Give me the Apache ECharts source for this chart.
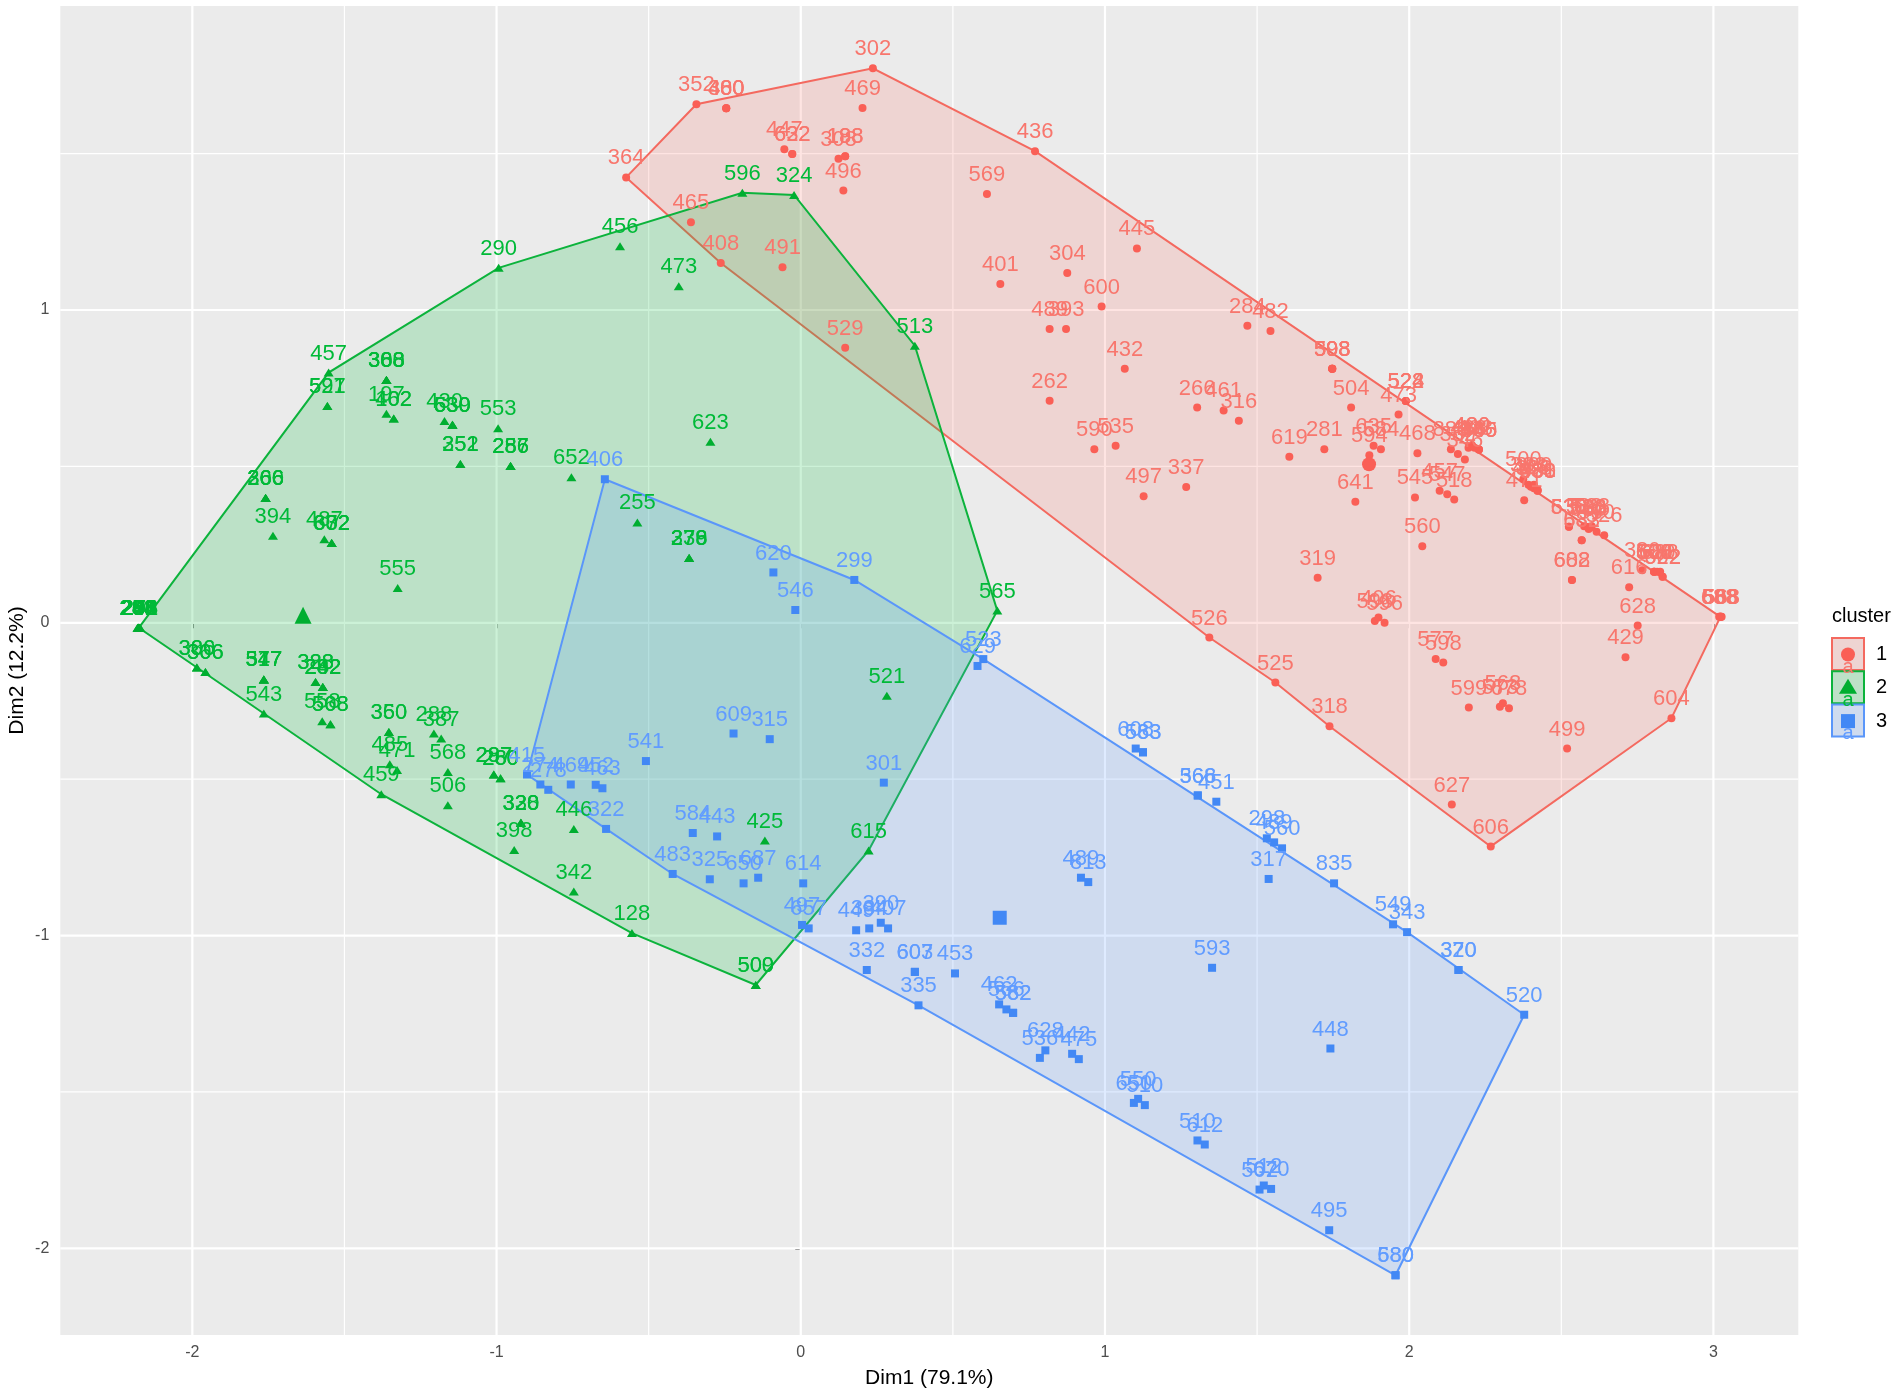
<!DOCTYPE html>
<html><head><meta charset="utf-8">
<style>html,body{margin:0;padding:0;background:#fff}#c{width:1902px;height:1394px;filter:blur(0.5px)}</style>
<script src="https://cdn.jsdelivr.net/npm/echarts@6/dist/echarts.min.js"></script>
</head><body><div id="c"></div>
<script>
const xRange=[-2.434,3.279], yRange=[-2.277,1.972];
const xTicks=[-2,-1,0,1,2,3], yTicks=[-2,-1,0,1];
const xMinor=[-1.5,-0.5,0.5,1.5,2.5], yMinor=[-1.5,-0.5,0.5,1.5];
const clusterNames=['1','2','3'];
const clusterColors=['#F8766D','#00BA38','#619CFF'];
const lineColors=['#F4695F','#0CB33C','#5A96FA'];
const pointColors=['#FA5F56','#00AE30','#4288F5'];

const hull1=[[-0.574,1.424],[-0.343,1.658],[0.237,1.773],[0.770,1.508],[3.023,0.019],[2.862,-0.305],[2.268,-0.715],[1.738,-0.331],[1.560,-0.191],[1.343,-0.047],[-0.263,1.150]];
const hull2=[[-2.176,-0.016],[-1.552,0.800],[-0.993,1.135],[-0.192,1.375],[-0.022,1.368],[0.375,0.886],[0.646,0.039],[0.223,-0.728],[-0.148,-1.158],[-0.555,-0.992],[-1.379,-0.548],[-1.765,-0.290],[-1.985,-0.143]];
const hull3=[[-0.644,0.459],[0.176,0.137],[0.600,-0.116],[1.993,-0.989],[2.378,-1.253],[1.955,-2.086],[0.387,-1.223],[-0.421,-0.803],[-0.640,-0.659],[-0.900,-0.485]];

const centers=[[1.868,0.507],[-1.636,0.024],[0.654,-0.943]];

const cluster1=[[-0.574,1.424,'364'],[-0.343,1.658,'352'],[0.237,1.773,'302'],[0.770,1.508,'436'],[3.021,0.019,'588'],[3.023,0.019,'583'],[3.025,0.019,'563'],[3.023,0.019,'603'],[3.019,0.019,'688'],[3.027,0.019,'568'],[2.862,-0.305,'604'],[2.268,-0.715,'606'],[1.738,-0.331,'318'],[1.560,-0.191,'525'],[1.343,-0.047,'526'],[-0.263,1.150,'408'],
[-0.245,1.645,'380'],[-0.245,1.645,'400'],[-0.245,1.645,'460'],[0.203,1.646,'469'],[-0.054,1.514,'447'],[-0.028,1.499,'622'],[-0.028,1.499,'632'],[0.124,1.484,'308'],[0.146,1.492,'198'],[0.146,1.492,'188'],[0.140,1.382,'496'],[-0.361,1.281,'465'],[-0.060,1.137,'491'],[0.146,0.879,'529'],
[0.612,1.371,'569'],[1.105,1.197,'445'],[0.656,1.083,'401'],[0.876,1.118,'304'],[0.989,1.011,'600'],[0.818,0.939,'489'],[0.872,0.939,'393'],[1.468,0.950,'284'],[1.544,0.933,'482'],[1.065,0.812,'432'],[1.747,0.812,'503'],[1.747,0.812,'598'],[1.747,0.812,'508'],[1.747,0.812,'398'],[0.818,0.710,'262'],[1.303,0.688,'266'],[1.390,0.679,'461'],[1.440,0.646,'316'],[1.809,0.688,'504'],[1.989,0.709,'522'],[1.989,0.709,'524'],[1.989,0.709,'528'],[1.965,0.666,'473'],[0.965,0.555,'590'],[1.035,0.566,'535'],[1.606,0.531,'619'],[1.721,0.555,'281'],[1.907,0.555,'584'],[1.883,0.566,'635'],[2.027,0.542,'468'],[2.137,0.555,'883'],[2.160,0.540,'382'],[2.183,0.522,'346'],[2.206,0.568,'400'],[2.229,0.554,'440'],[2.229,0.554,'465'],[2.229,0.554,'385'],[2.206,0.568,'480'],[2.195,0.560,'488'],[2.215,0.560,'408'],[1.869,0.536,'594'],
[1.127,0.405,'497'],[1.267,0.434,'337'],[1.823,0.387,'641'],[2.019,0.401,'545'],[2.100,0.422,'457'],[2.125,0.411,'547'],[2.148,0.394,'518'],[2.378,0.392,'471'],[2.375,0.459,'500'],[2.392,0.441,'383'],[2.422,0.422,'480'],[2.400,0.435,'488'],[2.422,0.422,'388'],[2.410,0.430,'308'],[2.422,0.425,'481'],[2.410,0.441,'300'],[2.525,0.307,'636'],[2.525,0.307,'530'],[2.588,0.306,'533'],[2.567,0.264,'583'],[2.616,0.291,'580'],[2.641,0.280,'526'],[2.575,0.309,'538'],[2.600,0.309,'588'],[2.588,0.306,'586'],[2.567,0.264,'632'],[2.590,0.300,'680'],
[2.043,0.245,'560'],[1.699,0.144,'319'],[2.535,0.137,'688'],[2.535,0.137,'602'],[2.723,0.114,'616'],[2.766,0.168,'380'],[2.805,0.163,'500'],[2.833,0.147,'602'],[2.805,0.163,'608'],[2.833,0.147,'522'],[2.805,0.163,'606'],[2.815,0.163,'680'],[2.825,0.163,'688'],[2.751,-0.009,'628'],[2.711,-0.110,'429'],[1.887,0.006,'598'],[1.899,0.017,'406'],[1.919,0.000,'596'],[2.087,-0.116,'577'],[2.112,-0.127,'598'],[2.196,-0.271,'599'],[2.298,-0.268,'573'],[2.328,-0.273,'678'],[2.308,-0.257,'568'],[2.519,-0.402,'499'],[2.140,-0.581,'627']];

const cluster2=[[-2.176,-0.016,'240'],[-2.178,-0.016,'241'],[-2.174,-0.016,'244'],[-2.176,-0.016,'254'],[-2.180,-0.016,'268'],[-2.172,-0.016,'278'],[-2.176,-0.016,'288'],[-2.176,-0.016,'298'],[-2.176,-0.016,'235'],[-2.178,-0.016,'256'],[-2.174,-0.016,'263'],[-2.176,-0.016,'272'],[-2.180,-0.016,'283'],[-2.172,-0.016,'291'],
[-1.552,0.800,'457'],[-1.556,0.693,'597'],[-1.556,0.693,'521'],[-0.993,1.135,'290'],[-0.594,1.204,'456'],[-0.401,1.076,'473'],[-0.192,1.375,'596'],[-0.022,1.368,'324'],[0.375,0.886,'513'],[-0.297,0.579,'623'],[-0.995,0.622,'553'],[-1.362,0.776,'388'],[-1.362,0.776,'368'],[-1.362,0.776,'300'],[-1.362,0.776,'308'],[-1.362,0.668,'197'],[-1.338,0.653,'402'],[-1.338,0.653,'162'],[-1.171,0.645,'430'],[-1.145,0.633,'539'],[-1.145,0.633,'530'],[-1.145,0.633,'630'],[-1.119,0.508,'352'],[-1.119,0.508,'251'],[-0.954,0.501,'286'],[-0.954,0.501,'287'],[-0.954,0.501,'256'],[-0.754,0.465,'652'],[-0.537,0.321,'255'],[-0.367,0.207,'276'],[-0.367,0.207,'239'],[-0.367,0.207,'378'],[-1.759,0.399,'266'],[-1.759,0.399,'260'],[-1.759,0.399,'306'],[-1.759,0.399,'366'],[-1.735,0.278,'394'],[-1.566,0.267,'487'],[-1.542,0.255,'372'],[-1.542,0.255,'632'],[-1.542,0.255,'602'],[-1.325,0.111,'555'],[0.646,0.039,'565'],
[-1.985,-0.143,'300'],[-1.985,-0.143,'386'],[-1.957,-0.157,'366'],[-1.957,-0.157,'306'],[-1.765,-0.181,'347'],[-1.765,-0.181,'547'],[-1.765,-0.181,'577'],[-1.765,-0.181,'517'],[-1.765,-0.290,'543'],[-1.595,-0.189,'328'],[-1.595,-0.189,'388'],[-1.571,-0.205,'282'],[-1.571,-0.205,'292'],[-1.571,-0.205,'242'],[-1.573,-0.315,'558'],[-1.546,-0.324,'568'],[-1.546,-0.324,'508'],[-1.354,-0.349,'360'],[-1.354,-0.349,'350'],[-1.206,-0.354,'288'],[-1.182,-0.370,'387'],[-1.351,-0.452,'485'],[-1.327,-0.471,'471'],[-1.160,-0.477,'568'],[-1.160,-0.583,'506'],[-1.379,-0.548,'459'],[-1.009,-0.485,'297'],[-1.009,-0.485,'287'],[-0.987,-0.497,'280'],[-0.987,-0.497,'260'],[-0.920,-0.639,'328'],[-0.920,-0.639,'330'],[-0.920,-0.639,'320'],[-0.942,-0.726,'398'],[-0.746,-0.659,'446'],[-0.746,-0.859,'342'],[-0.555,-0.992,'128'],[-0.148,-1.158,'509'],[-0.148,-1.158,'500'],[-0.118,-0.696,'425'],[0.223,-0.728,'615'],[0.283,-0.233,'521']];

const cluster3=[[-0.644,0.459,'406'],[-0.090,0.161,'620'],[0.176,0.137,'299'],[-0.018,0.041,'546'],[0.600,-0.116,'523'],[0.581,-0.138,'629'],[-0.221,-0.354,'609'],[-0.102,-0.372,'315'],[-0.509,-0.442,'541'],[0.273,-0.511,'301'],[-0.900,-0.485,'415'],[-0.856,-0.517,'274'],[-0.830,-0.534,'278'],[-0.756,-0.517,'469'],[-0.674,-0.518,'452'],[-0.652,-0.529,'463'],[-0.640,-0.659,'322'],[-0.355,-0.672,'584'],[-0.275,-0.683,'443'],[-0.421,-0.803,'483'],[-0.299,-0.820,'325'],[-0.188,-0.833,'650'],[-0.140,-0.815,'687'],[0.008,-0.833,'614'],[0.004,-0.966,'497'],[0.026,-0.977,'657'],[0.182,-0.983,'449'],[0.225,-0.977,'384'],[0.263,-0.959,'390'],[0.287,-0.977,'407'],[0.217,-1.110,'332'],[0.375,-1.116,'607'],[0.375,-1.116,'603'],[0.507,-1.121,'453'],[0.387,-1.223,'335'],
[1.101,-0.402,'608'],[1.125,-0.414,'583'],[1.125,-0.414,'563'],[1.305,-0.552,'368'],[1.305,-0.552,'566'],[1.366,-0.572,'451'],[1.532,-0.689,'298'],[1.556,-0.702,'489'],[1.582,-0.721,'560'],[0.921,-0.815,'489'],[0.945,-0.829,'813'],[1.538,-0.819,'317'],[1.753,-0.833,'835'],[1.947,-0.964,'549'],[1.993,-0.989,'343'],[2.162,-1.110,'320'],[2.162,-1.110,'370'],[2.378,-1.253,'520'],[1.352,-1.103,'593'],[0.652,-1.220,'462'],[0.676,-1.236,'566'],[0.698,-1.247,'582'],[0.698,-1.247,'562'],[0.804,-1.367,'628'],[0.786,-1.391,'536'],[0.892,-1.378,'442'],[0.914,-1.395,'475'],[1.741,-1.361,'448'],[1.095,-1.535,'650'],[1.109,-1.522,'550'],[1.131,-1.542,'510'],[1.304,-1.655,'510'],[1.328,-1.668,'612'],[1.508,-1.812,'502'],[1.522,-1.799,'512'],[1.546,-1.810,'670'],[1.737,-1.942,'495'],[1.955,-2.086,'580'],[1.955,-2.086,'680']];

const FONT='"Liberation Sans", Arial, sans-serif';
const chart=echarts.init(document.getElementById('c'),null,{renderer:'canvas'});

function gridSeries(values,dim,width){
  return {type:'custom',silent:true,z:1,animation:false,
    data:values.map(v=>dim===0?[v,0]:[0,v]),
    renderItem(params,api){
      const cs=params.coordSys, p=api.coord([api.value(0),api.value(1)]);
      const shape=dim===0?{x1:p[0],y1:cs.y,x2:p[0],y2:cs.y+cs.height}:{x1:cs.x,y1:p[1],x2:cs.x+cs.width,y2:p[1]};
      return {type:'line',shape,style:{stroke:'#fff',lineWidth:width,fill:null}};
    }};
}
function hullSeries(hull,i){
  return {type:'custom',name:clusterNames[i],silent:true,z:2,animation:false,data:hull,
    renderItem(params,api){
      if(params.dataIndex!==0) return null;
      const pts=hull.map(h=>api.coord(h));
      return {type:'polygon',shape:{points:pts},style:{fill:echarts.color.modifyAlpha(clusterColors[i],0.2),stroke:lineColors[i],lineWidth:2}};
    }};
}
function pointSeries(pts,i){
  return {type:'scatter',name:clusterNames[i],z:3,animation:false,silent:true,
    symbol:['circle','triangle','rect'][i],symbolSize:[8,[10,8],8][i],
    itemStyle:{color:pointColors[i],opacity:1},
    data:pts.map(p=>({value:[p[0],p[1]],name:p[2]})),
    label:{show:true,position:'top',distance:4,formatter:d=>d.name,color:clusterColors[i],fontFamily:FONT,fontSize:22}};
}
function centerSeries(i){
  return {type:'scatter',z:3,animation:false,silent:true,symbol:['circle','triangle','rect'][i],symbolSize:[14,[17,17],14][i],
    itemStyle:{color:pointColors[i],opacity:1},data:[centers[i]]};
}

const legendGraphic=[{type:'text',left:1832,top:606,style:{text:'cluster',font:'20px '+FONT,fill:'#000'}}];
clusterNames.forEach((n,i)=>{
  const top=638+i*33.3, c=lineColors[i], cy=top+16.5;
  legendGraphic.push({type:'rect',shape:{x:1832,y:top,width:32,height:32},style:{fill:'#EBEBEB',stroke:null},z:10});
  legendGraphic.push({type:'rect',shape:{x:1832,y:top,width:32,height:32},style:{fill:echarts.color.modifyAlpha(clusterColors[i],0.2),stroke:c,lineWidth:2},z:10});
  if(i===0) legendGraphic.push({type:'circle',shape:{cx:1848,cy:cy,r:7},style:{fill:pointColors[i]},z:11});
  if(i===1) legendGraphic.push({type:'polygon',shape:{points:[[1848,cy-9],[1857,cy+6],[1839,cy+6]]},style:{fill:pointColors[i]},z:11});
  if(i===2) legendGraphic.push({type:'rect',shape:{x:1841,y:cy-7,width:14,height:14},style:{fill:pointColors[i]},z:11});
  legendGraphic.push({type:'text',x:1848,y:top+29,style:{text:'a',font:'20px '+FONT,fill:clusterColors[i],align:'center',verticalAlign:'middle'},z:11});
  legendGraphic.push({type:'text',x:1876,y:cy,style:{text:n,font:'20px '+FONT,fill:'#000',verticalAlign:'middle'},z:11});
});

chart.setOption({
  animation:false,
  backgroundColor:'#fff',
  textStyle:{fontFamily:FONT},
  grid:{show:true,left:60.3,right:103.7,top:6,bottom:59,backgroundColor:'#EBEBEB',borderWidth:0,containLabel:false,outerBoundsMode:'none'},
  xAxis:{type:'value',min:xRange[0],max:xRange[1],name:'Dim1 (79.1%)',nameLocation:'middle',nameGap:33,nameMoveOverlap:false,
    nameTextStyle:{color:'#000',fontSize:21,fontFamily:FONT},
    splitLine:{show:false},minorSplitLine:{show:false},axisLine:{show:false},
    axisTick:{show:true,length:5.5,customValues:xTicks,lineStyle:{color:'#333',width:1.8}},
    axisLabel:{customValues:xTicks,color:'#4D4D4D',fontSize:16,margin:10,fontFamily:FONT}},
  yAxis:{type:'value',min:yRange[0],max:yRange[1],name:'Dim2 (12.2%)',nameLocation:'middle',nameGap:33,nameRotate:90,nameMoveOverlap:false,
    nameTextStyle:{color:'#000',fontSize:21,fontFamily:FONT},
    splitLine:{show:false},minorSplitLine:{show:false},axisLine:{show:false},
    axisTick:{show:true,length:5.5,customValues:yTicks,lineStyle:{color:'#333',width:1.8}},
    axisLabel:{customValues:yTicks,color:'#4D4D4D',fontSize:16,margin:11,fontFamily:FONT}},
  series:[
    gridSeries(xMinor,0,1.2),gridSeries(yMinor,1,1.2),gridSeries(xTicks,0,2.2),gridSeries(yTicks,1,2.2),
    hullSeries(hull1,0),hullSeries(hull2,1),hullSeries(hull3,2),
    pointSeries(cluster1,0),pointSeries(cluster2,1),pointSeries(cluster3,2),
    centerSeries(0),centerSeries(1),centerSeries(2)
  ],
  graphic:legendGraphic
});
</script></body></html>
